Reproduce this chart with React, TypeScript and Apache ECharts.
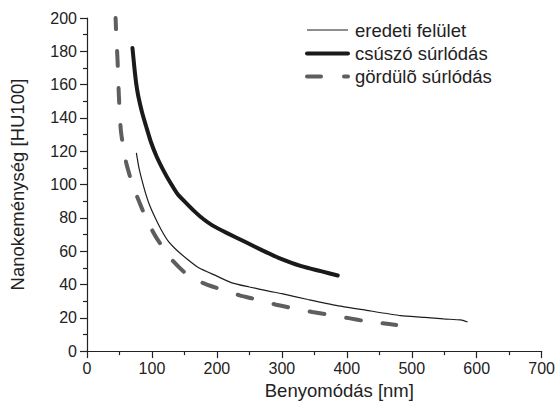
import React, { useEffect, useRef } from "react";
import * as echarts from "echarts";

const seriesNames = ["eredeti felület", "csúszó súrlódás", "gördülõ súrlódás"];

const eredetiX = [76, 80, 85, 90, 96, 105, 114, 125, 137, 155, 172, 200, 223, 250, 280, 300, 340, 381, 430, 483, 520, 549, 575, 586];
const eredetiY = [119, 110, 102, 95, 88, 80, 73, 66, 61, 55, 50, 45, 41, 38.5, 36, 34.5, 31, 27.6, 24.5, 21.3, 20.3, 19.3, 18.7, 17.5];

const csuszoX = [70, 73, 76, 79, 85, 91, 98, 107, 117, 127, 140, 155, 168, 180, 193, 215, 244, 270, 295, 330, 360, 386];
const csuszoY = [182, 170, 160, 153, 143, 135, 126, 117, 109, 102, 94, 88, 83, 79, 75.5, 71, 65.5, 60.5, 56, 51, 48, 45.4];

const gordX = [44, 45, 47, 49, 52, 56, 61, 70, 81, 93, 107, 128, 151, 178, 207, 235, 263, 290, 319, 347, 375, 403, 430, 455, 476];
const gordY = [200, 190, 175, 154, 133, 122, 112, 100, 89, 78, 68, 56, 47, 41, 37, 33.5, 30.8, 28, 25.6, 23.5, 21.7, 19.8, 17.9, 16.7, 15.7];

const xName = "Benyomódás [nm]";
const yName = "Nanokeménység [HU100]";

const zip = (xs: number[], ys: number[]) => xs.map((x, i) => [x, ys[i]]);

const FONT = "'Liberation Sans', Arial, sans-serif";

const lineStyles = [
  { stroke: "#1e1e1e", lineWidth: 1.2 },
  { stroke: "#1a1a1a", lineWidth: 4, lineCap: "round" },
  { stroke: "#5e5e5e", lineWidth: 4, lineCap: "round", lineDash: [14, 23] },
];

export default function App() {
  const ref = useRef<HTMLDivElement>(null);
  useEffect(() => {
    if (!ref.current) return;
    const chart = echarts.init(ref.current, undefined, { renderer: "svg" });
    const axisCommon = {
      axisLine: { show: true, lineStyle: { color: "#222", width: 1.2 } },
      axisTick: { show: true, inside: false, length: 7, lineStyle: { color: "#222", width: 1.2 } },
      minorTick: { show: true, splitNumber: 2, length: 4, lineStyle: { color: "#222", width: 1.2 } },
      splitLine: { show: false },
      axisLabel: { color: "#222", fontSize: 16, fontFamily: FONT },
      nameTextStyle: { color: "#222", fontSize: 18.5, fontFamily: FONT },
    };
    const legendRows = [30, 53.5, 76.5];
    const legendGraphics: any[] = [];
    seriesNames.forEach((n, i) => {
      legendGraphics.push({
        type: "line",
        shape: { x1: 307, y1: legendRows[i], x2: 348, y2: legendRows[i] },
        style: { ...lineStyles[i] },
      });
      legendGraphics.push({
        type: "text",
        x: 355,
        y: legendRows[i],
        style: {
          text: n,
          fill: "#222",
          fontSize: 18.5,
          fontFamily: FONT,
          verticalAlign: "middle",
          align: "left",
        },
      });
    });
    chart.setOption({
      animation: false,
      backgroundColor: "#fff",
      grid: { left: 87, right: 12, top: 18, bottom: 49, containLabel: false },
      graphic: legendGraphics,
      xAxis: {
        type: "value",
        min: 0,
        max: 700,
        interval: 100,
        name: xName,
        nameLocation: "middle",
        nameGap: 26,
        ...axisCommon,
        axisLabel: { ...axisCommon.axisLabel, margin: 9 },
        nameTextStyle: { ...axisCommon.nameTextStyle, padding: [0, 0, 0, 50] },
      },
      yAxis: {
        type: "value",
        min: 0,
        max: 200,
        interval: 20,
        name: yName,
        nameLocation: "middle",
        nameGap: 60,
        ...axisCommon,
        axisLabel: { ...axisCommon.axisLabel, margin: 10 },
      },
      series: [
        {
          name: seriesNames[0],
          type: "line",
          data: zip(eredetiX, eredetiY),
          symbol: "none",
          smooth: 0.2,
          lineStyle: { color: "#1e1e1e", width: 1.2 },
        },
        {
          name: seriesNames[1],
          type: "line",
          data: zip(csuszoX, csuszoY),
          symbol: "none",
          smooth: 0.2,
          lineStyle: { color: "#1a1a1a", width: 4, cap: "round" },
        },
        {
          name: seriesNames[2],
          type: "line",
          data: zip(gordX, gordY),
          symbol: "none",
          smooth: 0.2,
          lineStyle: { color: "#5e5e5e", width: 4, type: [15, 22], cap: "round", dashOffset: 4 },
        },
      ],
    });
    return () => chart.dispose();
  }, []);
  return <div ref={ref} style={{ width: 558, height: 405, position: "absolute", left: 0, top: 0 }} />;
}
